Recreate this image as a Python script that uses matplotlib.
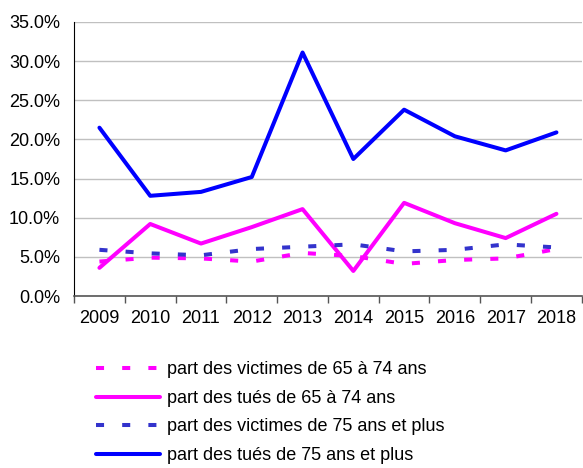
import matplotlib.pyplot as plt
from matplotlib.ticker import FixedLocator, FuncFormatter, NullFormatter
import numpy as np

plt.rcParams['font.family'] = ['Liberation Sans', 'DejaVu Sans']

years = ['2009', '2010', '2011', '2012', '2013', '2014', '2015', '2016', '2017', '2018']

victimes_65_74 = [4.4, 4.9, 4.8, 4.4, 5.5, 5.1, 4.1, 4.6, 4.8, 6.0]
tues_65_74 = [3.6, 9.2, 6.7, 8.8, 11.1, 3.2, 11.9, 9.3, 7.4, 10.5]
victimes_75 = [5.9, 5.45, 5.2, 6.0, 6.3, 6.6, 5.7, 5.9, 6.6, 6.2]
tues_75 = [21.5, 12.8, 13.3, 15.2, 31.1, 17.5, 23.8, 20.4, 18.6, 20.9]

labels = ['part des victimes de 65 à 74 ans',
          'part des tués de 65 à 74 ans',
          'part des victimes de 75 ans et plus',
          'part des tués de 75 ans et plus']

fig = plt.figure(figsize=(5.83, 4.68), dpi=100)
ax = fig.add_axes([0.127, 0.3675, 0.871, 0.5855])

x = np.arange(len(years))
dash = (0, (2, 4.5))
lw = 2.9
ax.plot(x, victimes_65_74, color='#FF00FF', lw=lw, ls=dash, dash_capstyle='butt', label=labels[0])
ax.plot(x, tues_65_74, color='#FF00FF', lw=lw, solid_capstyle='round', label=labels[1])
ax.plot(x, victimes_75, color='#3333CC', lw=lw, ls=dash, dash_capstyle='butt', label=labels[2])
ax.plot(x, tues_75, color='#0000FF', lw=lw, solid_capstyle='round', label=labels[3])

ax.set_xlim(-0.5, len(years) - 0.5)
ax.set_ylim(0, 35)
ax.set_yticks(np.arange(0, 36, 5))
ax.yaxis.set_major_formatter(FuncFormatter(lambda v, p: f'{v:.1f}%'))
ax.grid(axis='y', color='#c0c0c0', lw=1)
ax.set_axisbelow(True)

ax.xaxis.set_major_locator(FixedLocator(np.arange(-0.5, len(years), 1)))
ax.xaxis.set_major_formatter(NullFormatter())
ax.xaxis.set_minor_locator(FixedLocator(x))
ax.set_xticklabels(years, minor=True)
ax.tick_params(axis='x', which='major', length=5, width=1, color='#555555', direction='out')
ax.tick_params(axis='x', which='minor', length=0, pad=10, labelsize=13)
ax.tick_params(axis='y', length=0, pad=10, labelsize=13)

for s in ['top', 'right']:
    ax.spines[s].set_visible(False)
ax.spines['left'].set_color('#000000')
ax.spines['bottom'].set_color('#555555')
ax.spines['bottom'].set_linewidth(1.2)

fig.legend(loc='upper left', bbox_to_anchor=(0.165, 0.228), bbox_transform=fig.transFigure,
           frameon=False, fontsize=13, handlelength=3.55, handletextpad=0.39,
           labelspacing=0.64, borderpad=0, borderaxespad=0)

fig.savefig('out.png', dpi=100)
